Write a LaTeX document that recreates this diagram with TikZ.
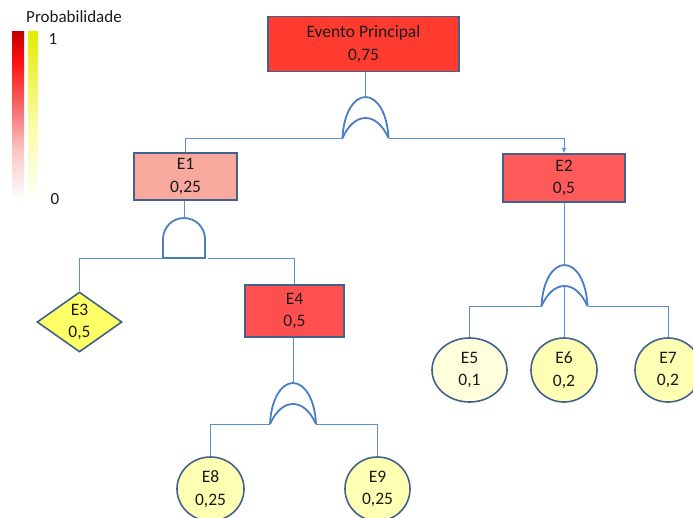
\documentclass[tikz,border=0pt]{standalone}
\usepackage{fontspec}
\setmainfont{Carlito}
\usetikzlibrary{shapes.geometric,arrows.meta}

% palette
\definecolor{boxline}{HTML}{41618F}
\definecolor{wirecol}{HTML}{5B8FD4}
\definecolor{gatecol}{HTML}{4A7DC2}
\definecolor{txt}{HTML}{1A1A1A}
\definecolor{topfill}{HTML}{FF3B30}
\definecolor{lowfill}{HTML}{F9A89E}
\definecolor{midfill}{HTML}{FF5A5A}
\definecolor{hifill}{HTML}{FF4F4F}
\definecolor{basefill}{HTML}{FFFF66}
\definecolor{palefill}{HTML}{FFFFDC}
\definecolor{leaffill}{HTML}{FFFFB3}
% legend scales (the path spans 25bp..75bp of each shading)
\definecolor{rA}{HTML}{FFFFFF}
\definecolor{rB}{HTML}{FBC4C4}
\definecolor{rC}{HTML}{F65A5A}
\definecolor{rD}{HTML}{FF1010}
\definecolor{rE}{HTML}{C00000}
\definecolor{yA}{HTML}{FFFFF6}
\definecolor{yB}{HTML}{F9FBA0}
\definecolor{yC}{HTML}{E4EC00}
\pgfdeclareverticalshading{redscale}{100bp}{color(0bp)=(rA); color(25bp)=(rA); color(40bp)=(rB); color(55bp)=(rC); color(66bp)=(rD); color(75bp)=(rE); color(100bp)=(rE)}
\pgfdeclareverticalshading{yellowscale}{100bp}{color(0bp)=(yA); color(25bp)=(yA); color(48bp)=(yB); color(75bp)=(yC); color(100bp)=(yC)}

\tikzset{
  event/.style={draw=boxline, line width=1.6pt, text=txt, align=center,
    font=\fontsize{17.5}{22.5}\selectfont, inner sep=0pt},
  evbox/.style={event, rectangle},
  basic/.style={event, diamond, aspect=1.4, fill=basefill},
  leaf/.style={event, ellipse, minimum width=66pt, minimum height=64pt, fill=leaffill},
  wire/.style={draw=wirecol, line width=1pt},
  gate/.style={draw=gatecol, line width=1.8pt},
  orgate/.pic={
    \draw[gate] (-23,41) .. controls (-22,17) and (-12,0) .. (0,0)
                         .. controls (12,0) and (22,17) .. (23,41);
    \draw[gate] (-23,41) .. controls (-17,28) and (-9,21) .. (0,21)
                         .. controls (9,21) and (17,28) .. (23,41);
    \coordinate (-top) at (0,0);
    \coordinate (-in) at (0,21);
    \coordinate (-L) at (-23,41);
    \coordinate (-R) at (23,41);
  },
  andgate/.pic={
    \draw[gate] (-21,40) -- (-21,21) .. controls (-21,9.4) and (-11.6,0) .. (0,0)
                .. controls (11.6,0) and (21,9.4) .. (21,21) -- (21,40) -- cycle;
    \coordinate (-top) at (0,0);
    \coordinate (-L) at (-21,40);
    \coordinate (-R) at (24,40);
  }
}

\begin{document}
\begin{tikzpicture}[x=1pt, y=-1pt]
\clip (0,0) rectangle (693,517);

% probability legend
\shade[shading=redscale] (12,31) rectangle (24,200);
\shade[shading=yellowscale] (28,31) rectangle (38,195);
\node[text=txt, font=\fontsize{17}{20}\selectfont] (lgtitle) at (74,17) {Probabilidade};
\node[text=txt, font=\fontsize{17}{20}\selectfont] (lgmax) at (53,39) {1};
\node[text=txt, font=\fontsize{17}{20}\selectfont] (lgmin) at (55,199) {0};

% events
\node[evbox, fill=topfill, minimum width=191pt, minimum height=55pt] (ev) at (363.5,44) {Evento Principal\\0,75};
\node[evbox, fill=lowfill, minimum width=103pt, minimum height=47pt] (e1) at (185.5,176.5) {E1\\0,25};
\node[evbox, fill=midfill, minimum width=122pt, minimum height=48pt] (e2) at (564,178) {E2\\0,5};
\node[basic, minimum width=85pt, minimum height=60pt] (e3) at (79.5,322) {E3\\0,5};
\node[evbox, fill=hifill, minimum width=99pt, minimum height=52pt] (e4) at (294.5,311) {E4\\0,5};
\node[leaf, fill=palefill, minimum width=75pt] (e5) at (469.5,370) {E5\\0,1};
\node[leaf] (e6) at (564,370) {E6\\0,2};
\node[leaf] (e7) at (668,370) {E7\\0,2};
\node[leaf, minimum width=67pt] (e8) at (210.5,489) {E8\\0,25};
\node[leaf, minimum width=65pt] (e9) at (377.5,489) {E9\\0,25};

% gates
\pic (g0) at (365.5,97) {orgate};
\pic (g1) at (184,218) {andgate};
\pic (g2) at (564.5,265) {orgate};
\pic (g3) at (293,383) {orgate};

% connectors
\draw[wire] (ev.south -| g0-top) -- (g0-top);
\draw[wire] (g0-L) -| (e1.north);
\draw[wire, -{Latex[length=5pt,width=4.5pt]}] (g0-R) -| (e2.north);

\draw[wire] (e1.south -| g1-top) -- (g1-top);
\draw[wire] (g1-L) -| (e3.north);
\draw[wire] (g1-R) -| (e4.north);

\draw[wire] (e2.south -| g2-top) -- (g2-top);
\draw[wire] (g2-L) -| (e5.north);
\draw[wire] (g2-in) -- (g2-in |- e6.north);
\draw[wire] (g2-R) -| (e7.north);

\draw[wire] (e4.south -| g3-top) -- (g3-top);
\draw[wire] (g3-L) -| (e8.north);
\draw[wire] (g3-R) -| (e9.north);
\end{tikzpicture}
\end{document}
